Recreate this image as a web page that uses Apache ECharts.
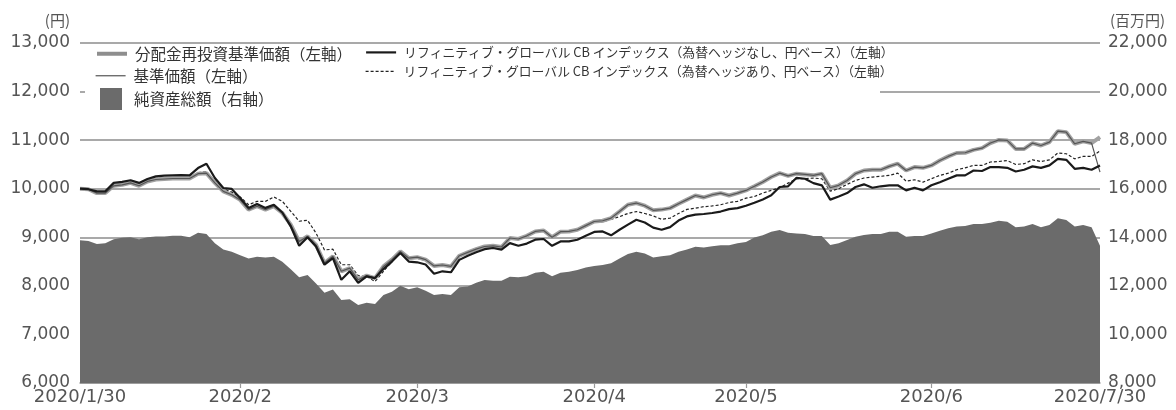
<!DOCTYPE html>
<html>
<head>
<meta charset="utf-8">
<script src="https://cdn.jsdelivr.net/npm/echarts@6/dist/echarts.min.js"></script>
<style>
html,body{margin:0;padding:0;background:#fff;}
#chart{width:1176px;height:410px;}
</style>
</head>
<body>
<div id="chart"></div>
<script>
const dates = [
'2020/1/30','2020/1/31',
'2020/2/3','2020/2/4','2020/2/5','2020/2/6','2020/2/7','2020/2/10','2020/2/12','2020/2/13','2020/2/14','2020/2/17','2020/2/18','2020/2/19','2020/2/20','2020/2/21','2020/2/25','2020/2/26','2020/2/27','2020/2/28',
'2020/3/2','2020/3/3','2020/3/4','2020/3/5','2020/3/6','2020/3/9','2020/3/10','2020/3/11','2020/3/12','2020/3/13','2020/3/16','2020/3/17','2020/3/18','2020/3/19','2020/3/23','2020/3/24','2020/3/25','2020/3/26','2020/3/27','2020/3/30','2020/3/31',
'2020/4/1','2020/4/2','2020/4/3','2020/4/6','2020/4/7','2020/4/8','2020/4/9','2020/4/10','2020/4/13','2020/4/14','2020/4/15','2020/4/16','2020/4/17','2020/4/20','2020/4/21','2020/4/22','2020/4/23','2020/4/24','2020/4/27','2020/4/28','2020/4/30',
'2020/5/1','2020/5/7','2020/5/8','2020/5/11','2020/5/12','2020/5/13','2020/5/14','2020/5/15','2020/5/18','2020/5/19','2020/5/20','2020/5/21','2020/5/22','2020/5/25','2020/5/26','2020/5/27','2020/5/28','2020/5/29',
'2020/6/1','2020/6/2','2020/6/3','2020/6/4','2020/6/5','2020/6/8','2020/6/9','2020/6/10','2020/6/11','2020/6/12','2020/6/15','2020/6/16','2020/6/17','2020/6/18','2020/6/19','2020/6/22','2020/6/23','2020/6/24','2020/6/25','2020/6/26','2020/6/29','2020/6/30',
'2020/7/1','2020/7/2','2020/7/3','2020/7/6','2020/7/7','2020/7/8','2020/7/9','2020/7/10','2020/7/13','2020/7/14','2020/7/15','2020/7/16','2020/7/17','2020/7/20','2020/7/21','2020/7/22','2020/7/27','2020/7/28','2020/7/29','2020/7/30'
];

const tickDates = ['2020/1/30','2020/2/28','2020/3/31','2020/4/30','2020/5/29','2020/6/30','2020/7/30'];
const tickTexts = ['2020/1/30','2020/2','2020/3','2020/4','2020/5','2020/6','2020/7/30'];

const leftTicks = [6000,7000,8000,9000,10000,11000,12000,13000];
const rightTicks = [8000,10000,12000,14000,16000,18000,20000,22000];

// 分配金再投資基準価額（左軸）
const reinvestNav = [
10000,9990,9910,9910,10060,10080,10120,10060,10150,10190,
10200,10210,10210,10210,10310,10320,10120,9945,9875,9770,
9570,9640,9570,9640,9500,9260,8915,9020,8845,8470,
8610,8300,8365,8125,8210,8160,8400,8540,8710,8570,
8590,8540,8410,8430,8400,8620,8690,8755,8810,8825,
8800,8985,8965,9030,9120,9140,9000,9115,9120,9155,
9240,9325,9340,9395,9530,9670,9705,9650,9555,9570,
9600,9690,9775,9860,9820,9875,9910,9860,9910,9965,
10050,10140,10240,10320,10265,10310,10295,10275,10310,10020,
10070,10170,10310,10375,10390,10390,10460,10515,10375,10445,
10430,10480,10580,10665,10735,10740,10800,10835,10940,11005,
10995,10820,10820,10940,10890,10960,11185,11165,10925,10975,
10940,11060
];

// 基準価額（左軸）
const nav = [
10000,9990,9910,9910,10060,10080,10120,10060,10150,10190,
10200,10210,10210,10210,10310,10320,10120,9945,9875,9770,
9570,9640,9570,9640,9500,9260,8915,9020,8845,8470,
8610,8300,8365,8125,8210,8160,8400,8540,8710,8570,
8590,8540,8410,8430,8400,8620,8690,8755,8810,8825,
8800,8985,8965,9030,9120,9140,9000,9115,9120,9155,
9240,9325,9340,9395,9530,9670,9705,9650,9555,9570,
9600,9690,9775,9860,9820,9875,9910,9860,9910,9965,
10050,10140,10240,10320,10265,10310,10295,10275,10310,10020,
10070,10170,10310,10375,10390,10390,10460,10515,10375,10445,
10430,10480,10580,10665,10735,10740,10800,10835,10940,11005,
10995,10820,10820,10940,10890,10960,11185,11165,10925,10975,
10940,10340
];

// リフィニティブ・グローバル CB インデックス（為替ヘッジなし、円ベース）
const cbUnhedged = [
10000,9990,9945,9945,10120,10140,10175,10120,10200,10255,
10270,10275,10280,10275,10425,10515,10220,10015,9995,9810,
9605,9685,9605,9670,9510,9225,8825,9000,8810,8435,
8570,8125,8300,8060,8195,8160,8345,8500,8675,8500,
8485,8440,8250,8300,8280,8535,8620,8690,8755,8780,
8745,8880,8825,8870,8950,8965,8825,8915,8915,8950,
9030,9110,9120,9040,9155,9260,9360,9305,9200,9155,
9210,9345,9430,9465,9480,9500,9530,9580,9600,9650,
9710,9780,9865,10035,10050,10225,10205,10115,10070,9775,
9840,9910,10035,10090,10020,10050,10070,10070,9965,10020,
9965,10070,10135,10205,10275,10275,10375,10365,10445,10445,
10430,10355,10390,10460,10430,10480,10615,10595,10410,10430,
10390,10480
];

// リフィニティブ・グローバル CB インデックス（為替ヘッジあり、円ベース）
const cbHedged = [
10000,9995,9925,9925,10080,10100,10140,10080,10170,10210,
10220,10230,10230,10230,10330,10350,10160,10000,9930,9830,
9670,9740,9740,9830,9740,9535,9330,9350,9085,8740,
8755,8435,8435,8210,8195,8090,8300,8500,8675,8590,
8570,8520,8400,8420,8390,8600,8680,8745,8800,8815,
8790,8975,8955,9020,9110,9130,8990,9105,9110,9145,
9230,9310,9320,9370,9425,9490,9530,9490,9440,9370,
9395,9490,9575,9600,9630,9645,9670,9715,9740,9805,
9840,9910,9965,10020,10115,10205,10205,10220,10205,9950,
10000,10090,10170,10220,10240,10255,10275,10320,10155,10185,
10135,10205,10275,10320,10390,10430,10480,10480,10550,10560,
10580,10500,10515,10595,10560,10595,10735,10720,10615,10665,
10665,10775
];

// 純資産総額（右軸、百万円）
const netAssets = [
13880,13850,13720,13750,13920,13980,14000,13920,14000,14030,
14030,14060,14060,14000,14190,14140,13750,13500,13400,13260,
13130,13200,13170,13200,12990,12680,12350,12450,12100,11720,
11850,11420,11450,11210,11300,11250,11620,11760,12000,11860,
11940,11800,11620,11660,11620,11940,11970,12130,12240,12210,
12210,12380,12350,12400,12540,12580,12400,12540,12580,12650,
12760,12820,12860,12930,13130,13310,13400,13330,13170,13220,
13260,13400,13500,13610,13580,13630,13670,13670,13750,13810,
13990,14080,14230,14300,14190,14160,14135,14050,14050,13680,
13750,13890,14025,14090,14135,14135,14230,14230,14025,14050,
14050,14160,14270,14370,14440,14460,14550,14550,14600,14680,
14640,14410,14440,14550,14410,14510,14780,14710,14440,14510,
14410,13650
];

const N1 = '分配金再投資基準価額（左軸）';
const N2 = '基準価額（左軸）';
const N3 = '純資産総額（右軸）';
const N4 = 'リフィニティブ・グローバル CB インデックス（為替ヘッジなし、円ベース）（左軸）';
const N5 = 'リフィニティブ・グローバル CB インデックス（為替ヘッジあり、円ベース）（左軸）';

const FONT = '"Noto Sans CJK JP","Noto Sans",sans-serif';
const NUMFONT = '"DejaVu Sans",sans-serif';
const legTextL = {fontFamily: FONT, fontSize: 15.5, color: '#333', padding: [0,0,0,3]};
const legTextR = {fontFamily: FONT, fontSize: 12.8, color: '#333', padding: [0,0,0,3]};

function leg(name, left, top, text, extra) {
  return Object.assign({
    left: left, top: top, orient: 'vertical', padding: 0,
    itemWidth: 30, itemHeight: 12,
    itemStyle: {opacity: 0},
    textStyle: text, selectedMode: false,
    data: [name]
  }, extra || {});
}

const chart = echarts.init(document.getElementById('chart'), null, {renderer: 'canvas'});
chart.setOption({
  animation: false,
  backgroundColor: '#fff',
  grid: {left: 80, right: 76, top: 43, bottom: 27, containLabel: false},
  graphic: [{
    type: 'rect', z: 1,
    shape: {x: 85, y: 46, width: 795, height: 66},
    style: {fill: '#fff'}
  }],
  legend: [
    leg(N1, 95, 46, legTextL, {lineStyle: {width: 4, color: '#8e8e8e'}}),
    leg(N2, 95, 68, legTextL, {lineStyle: {width: 1.2, color: '#555'}}),
    leg({name: N3, icon: 'rect'}, 100, 88, Object.assign({}, legTextL, {padding: [0,0,0,7]}),
        {itemWidth: 22, itemHeight: 22, itemStyle: {opacity: 1, color: '#6b6b6b'}}),
    leg(N4, 365, 46, legTextR, {lineStyle: {width: 2.2, color: '#1a1a1a'}}),
    leg(N5, 365, 65, legTextR, {lineStyle: {width: 1.2, color: '#222', type: [3, 2]}})
  ],
  xAxis: {
    type: 'category',
    data: dates,
    boundaryGap: false,
    axisLine: {show: true, lineStyle: {color: '#999', width: 1.5}},
    axisTick: {
      show: true, length: 5, lineStyle: {color: '#999', width: 1.2},
      interval: function (i, v) { return tickDates.indexOf(v) > 0 && tickDates.indexOf(v) < tickDates.length - 1; }
    },
    axisLabel: {
      interval: function (i, v) { return tickDates.indexOf(v) >= 0; },
      formatter: function (v) { return tickTexts[tickDates.indexOf(v)]; },
      showMinLabel: true, showMaxLabel: true, hideOverlap: false,
      fontFamily: NUMFONT, fontSize: 18, color: '#555', margin: 5
    },
    splitLine: {show: false}
  },
  yAxis: [{
    type: 'value', min: leftTicks[0], max: leftTicks[leftTicks.length - 1], interval: 1000,
    position: 'left',
    name: '(円)', nameLocation: 'end', nameGap: 15,
    nameTextStyle: {fontFamily: FONT, fontSize: 15, color: '#555', align: 'right', padding: [0, 10, 0, 0]},
    axisLine: {show: false}, axisTick: {show: false},
    axisLabel: {fontFamily: NUMFONT, fontSize: 17, color: '#555', margin: 10,
      formatter: function (v) { return v.toLocaleString('en-US'); }},
    splitLine: {show: true, lineStyle: {color: '#8c8c8c', width: 1.5}}
  }, {
    type: 'value', min: rightTicks[0], max: rightTicks[rightTicks.length - 1], interval: 2000,
    position: 'right',
    name: '(百万円)', nameLocation: 'end', nameGap: 15,
    nameTextStyle: {fontFamily: FONT, fontSize: 15, color: '#555', align: 'left', padding: [0, 0, 0, 10]},
    axisLine: {show: false}, axisTick: {show: false},
    axisLabel: {fontFamily: NUMFONT, fontSize: 17, color: '#555', margin: 8,
      formatter: function (v) { return v.toLocaleString('en-US'); }},
    splitLine: {show: false}
  }],
  series: [{
    name: N3, type: 'line', yAxisIndex: 1, data: netAssets,
    symbol: 'none', z: 2,
    lineStyle: {width: 0, color: '#6b6b6b'},
    itemStyle: {color: '#6b6b6b'},
    areaStyle: {color: '#6b6b6b', opacity: 1, origin: 'start'}
  }, {
    name: N5, type: 'line', yAxisIndex: 0, data: cbHedged,
    symbol: 'none', z: 3,
    lineStyle: {width: 1.2, color: '#222', type: [3, 2]},
    itemStyle: {color: '#222'}
  }, {
    name: N1, type: 'line', yAxisIndex: 0, data: reinvestNav,
    symbol: 'none', z: 4,
    lineStyle: {width: 4, color: '#a2a2a2'},
    itemStyle: {color: '#a2a2a2'}
  }, {
    name: N2, type: 'line', yAxisIndex: 0, data: nav,
    symbol: 'none', z: 5,
    lineStyle: {width: 1.2, color: '#555'},
    itemStyle: {color: '#555'}
  }, {
    name: N4, type: 'line', yAxisIndex: 0, data: cbUnhedged,
    symbol: 'none', z: 6,
    lineStyle: {width: 2.2, color: '#1a1a1a'},
    itemStyle: {color: '#1a1a1a'}
  }]
});
</script>
</body>
</html>
